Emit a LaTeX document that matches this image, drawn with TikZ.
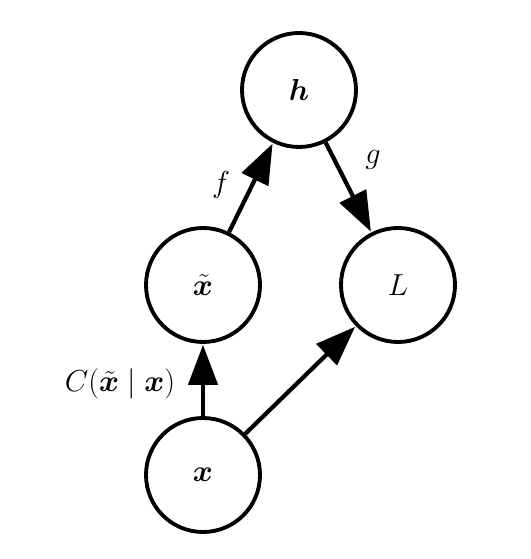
\documentclass[tikz,border=0pt]{standalone}
\usepackage{amsmath,bm}
\usetikzlibrary{arrows.meta}

\begin{document}
\begin{tikzpicture}[
		var/.style={circle, draw, line width=2.2pt, minimum size=2.28cm, inner sep=0pt, font=\fontsize{18.2}{22}\selectfont},
		lbl/.style={font=\fontsize{18.2}{22}\selectfont},
		edge/.style={line width=2.4pt, -{Triangle[length=0.8cm, width=0.58cm]}, shorten >=0.5pt}
	]
		\useasboundingbox (0,0) rectangle (10.6,11.18);

		\node[var] (h) at (5.98,9.38) {$\bm{h}$};
		\node[var] (xt) at (4.06,5.48) {$\tilde{\bm{x}}$};
		\node[var] (L) at (7.96,5.48) {$L$};
		\node[var] (x) at (4.06,1.68) {$\bm{x}$};

		\draw[edge] (x) -- (xt);
		\draw[edge] (x) -- (L);
		\draw[edge] (xt) -- (h);
		\draw[edge] (h) -- (L);

		\node[lbl] (lf) at (4.42,7.48) {$f$};
		\node[lbl] (lg) at (7.46,7.98) {$g$};
		\node[lbl] (lc) at (2.40,3.50) {$C(\tilde{\bm{x}} \mid \bm{x})$};
	\end{tikzpicture}
\end{document}
